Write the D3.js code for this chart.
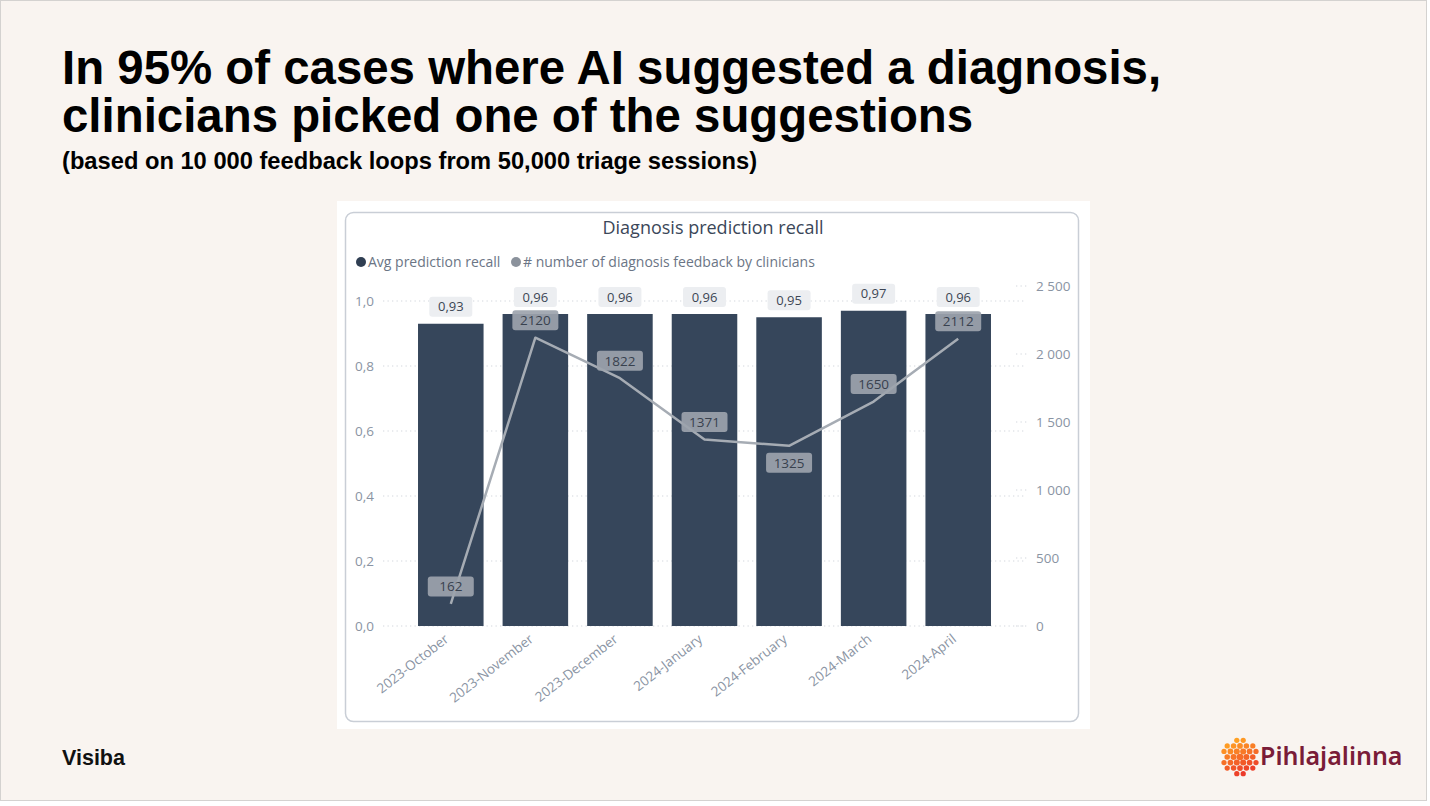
<!DOCTYPE html>
<html><head><meta charset="utf-8">
<script src="https://cdn.jsdelivr.net/npm/d3@7"></script>
<style>
html,body{margin:0;padding:0;background:#ffffff;}
svg{display:block;}
</style></head>
<body>
<svg id="chart" width="1430" height="806"></svg>
<script>
// ---------- data ----------
const months = ["2023-October","2023-November","2023-December","2024-January","2024-February","2024-March","2024-April"];
const recall = [0.93, 0.96, 0.96, 0.96, 0.95, 0.97, 0.96];
const feedback = [162, 2120, 1822, 1371, 1325, 1650, 2112];
const feedbackLabelBelow = [false, false, false, false, true, false, false];
const leftTicks = [0, 0.2, 0.4, 0.6, 0.8, 1.0];
const rightTicks = [0, 500, 1000, 1500, 2000, 2500];
const titleLines = ["In 95% of cases where AI suggested a diagnosis,", "clinicians picked one of the suggestions"];
const subtitle = "(based on 10 000 feedback loops from 50,000 triage sessions)";
const chartTitle = "Diagnosis prediction recall";
const legendItems = ["Avg prediction recall", "# number of diagnosis feedback by clinicians"];

const locale = d3.formatLocale({decimal: ",", thousands: " ", grouping: [3], currency: ["", ""]});
const fmtLeft = locale.format(".1f");
const fmtRecall = locale.format(".2f");
const fmtRight = locale.format(",d");

const svg = d3.select("#chart");
const F = "'Open Sans', 'Noto Sans', sans-serif";

// page
svg.append("rect").attr("x", 0.5).attr("y", 0.5).attr("width", 1426).attr("height", 800)
  .attr("fill", "#f9f4f0").attr("stroke", "#d4d2d0").attr("stroke-width", 1);

// headline
const head = svg.append("g").attr("font-family", "'Liberation Sans', Arial, sans-serif").attr("font-weight", "bold").attr("fill", "#000");
head.selectAll("text.t").data(titleLines).join("text").attr("class", "t")
  .attr("x", 62).attr("y", (d, i) => 84 + i * 48).attr("font-size", 47.4).text(d => d);
head.append("text").attr("x", 62).attr("y", 169).attr("font-size", 23.7).text(subtitle);

// footer
svg.append("text").attr("x", 62).attr("y", 765).attr("font-family", "'Liberation Sans', Arial, sans-serif")
  .attr("font-weight", "bold").attr("font-size", 21.5).attr("fill", "#111").text("Visiba");

// Pihlajalinna logo
const logo = svg.append("g").attr("transform", "translate(1240,757)");
const dots = [];
const sp = 6.4;
for (let r = -3; r <= 3; r++) {
  for (let c = -4; c <= 4; c++) {
    const x = c * sp + (Math.abs(r) % 2 ? sp / 2 : 0);
    const y = r * sp * 0.866;
    const dist = Math.hypot(x, y);
    if (dist <= 17.5) dots.push({x, y, dist});
  }
}
const dotColor = d3.scaleLinear().domain([-1, 1]).range(["#ffa024", "#ec3a2a"]);
logo.selectAll("circle").data(dots).join("circle")
  .attr("cx", d => d.x).attr("cy", d => d.y)
  .attr("r", d => 3.3 - d.dist * 0.04)
  .attr("fill", d => dotColor((d.x * 0.4 + d.y) / 18));
svg.append("text").attr("x", 1260).attr("y", 765).attr("font-family", "'Noto Sans', sans-serif")
  .attr("font-weight", 600).attr("font-size", 25).attr("fill", "#7a1c38").text("Pihlajalinna");

// chart panel
svg.append("rect").attr("x", 337).attr("y", 201).attr("width", 753).attr("height", 528).attr("fill", "#ffffff");
svg.append("rect").attr("x", 345.5).attr("y", 212.5).attr("width", 733).attr("height", 509).attr("rx", 8)
  .attr("fill", "none").attr("stroke", "#c9ced6").attr("stroke-width", 1.5);

svg.append("text").attr("x", 713).attr("y", 234).attr("text-anchor", "middle")
  .attr("font-family", F).attr("font-size", 18).attr("fill", "#3b4759").text(chartTitle);

// legend
const legColors = ["#2f3e52", "#8b929c"];
const legX = [361, 516];
legendItems.forEach((t, i) => {
  svg.append("circle").attr("cx", legX[i]).attr("cy", 262).attr("r", 5).attr("fill", legColors[i]);
  svg.append("text").attr("x", legX[i] + 7).attr("y", 267).attr("font-family", F).attr("font-size", 14)
    .attr("fill", "#6b7585").text(t);
});

// scales
const x = d3.scaleBand().domain(months).range([408.5, 1000.5]).paddingInner(0.225).paddingOuter(0.1125);
const yL = d3.scaleLinear().domain([0, 1]).range([626, 301]);
const yR = d3.scaleLinear().domain([0, 2500]).range([626, 286]);

// gridlines
svg.append("g").selectAll("line").data(leftTicks).join("line")
  .attr("x1", 383).attr("x2", 1024).attr("y1", d => yL(d)).attr("y2", d => yL(d))
  .attr("stroke", "#d3d7dd").attr("stroke-width", 1.2).attr("stroke-dasharray", "1.3,3.2");
svg.append("g").selectAll("line").data(rightTicks).join("line")
  .attr("x1", 1016).attr("x2", 1029).attr("y1", d => yR(d)).attr("y2", d => yR(d))
  .attr("stroke", "#d3d7dd").attr("stroke-width", 1.2).attr("stroke-dasharray", "1.3,3.2");

// axes
const axL = svg.append("g").attr("transform", "translate(374,0)")
  .call(d3.axisLeft(yL).tickValues(leftTicks).tickFormat(fmtLeft).tickSize(0).tickPadding(0));
const axR = svg.append("g").attr("transform", "translate(1036,0)")
  .call(d3.axisRight(yR).tickValues(rightTicks).tickFormat(fmtRight).tickSize(0).tickPadding(0));
const axB = svg.append("g").attr("transform", "translate(0,626)")
  .call(d3.axisBottom(x).tickSize(0).tickPadding(0));
[axL, axR, axB].forEach(a => {
  a.select(".domain").remove();
  a.selectAll("text").attr("font-family", F).attr("font-size", 13.5).attr("fill", "#8a94a3");
});
axB.selectAll(".tick text")
  .attr("text-anchor", "end").attr("dy", "0.35em")
  .attr("transform", "translate(-4,11) rotate(-38)");

// bars
svg.append("g").selectAll("rect").data(months).join("rect")
  .attr("x", d => x(d)).attr("width", x.bandwidth())
  .attr("y", (d, i) => yL(recall[i])).attr("height", (d, i) => yL(0) - yL(recall[i]))
  .attr("fill", "#36465b");

// bar labels
const bl = svg.append("g").selectAll("g").data(months).join("g")
  .attr("transform", (d, i) => `translate(${x(d) + x.bandwidth() / 2},${yL(recall[i]) - 17})`);
bl.append("rect").attr("x", -21.5).attr("y", -10).attr("width", 43).attr("height", 20).attr("rx", 3).attr("fill", "#eceef1");
bl.append("text").attr("text-anchor", "middle").attr("dy", "0.36em").attr("font-family", F).attr("font-size", 13)
  .attr("fill", "#3c4654").text((d, i) => fmtRecall(recall[i]));

// line
const line = d3.line().x((d, i) => x(months[i]) + x.bandwidth() / 2).y(d => yR(d));
svg.append("path").datum(feedback).attr("d", line).attr("fill", "none")
  .attr("stroke", "#a6acb4").attr("stroke-width", 2.5).attr("stroke-linejoin", "round");

// line labels
const ll = svg.append("g").selectAll("g").data(feedback).join("g")
  .attr("transform", (d, i) => `translate(${x(months[i]) + x.bandwidth() / 2},${yR(d) + (feedbackLabelBelow[i] ? 17 : -17.5)})`);
ll.append("rect").attr("x", -23).attr("y", -10).attr("width", 46).attr("height", 20).attr("rx", 3)
  .attr("fill", "#9ca3ad").attr("opacity", 0.92);
ll.append("text").attr("text-anchor", "middle").attr("dy", "0.36em").attr("font-family", F).attr("font-size", 13.5)
  .attr("fill", "#38414e").text(d => d);
</script>
</body></html>
